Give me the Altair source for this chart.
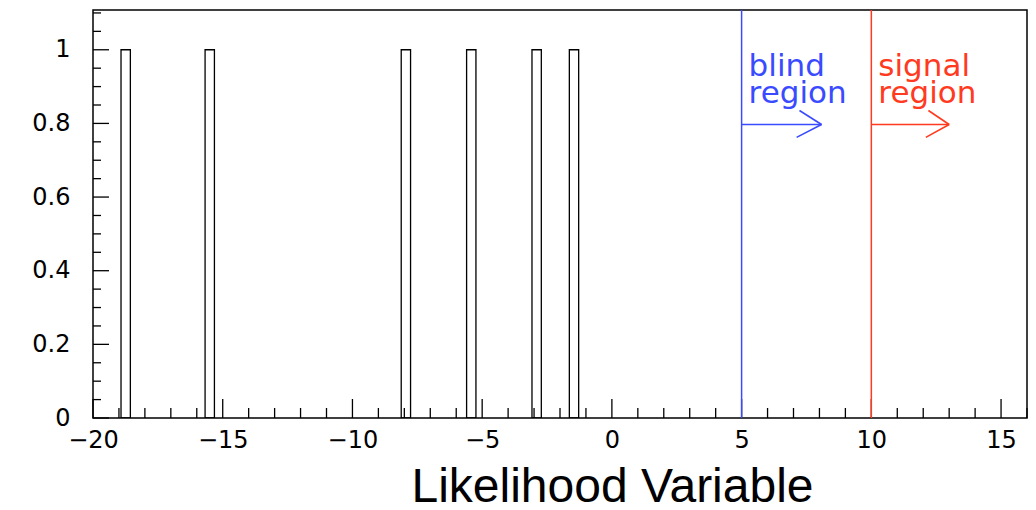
import altair as alt
import pandas as pd

# ---- data ----
bin_lo = [-18.92, -15.68, -8.12, -5.60, -3.08, -1.64]
bin_hi = [-18.56, -15.32, -7.76, -5.24, -2.72, -1.28]
counts = [1, 1, 1, 1, 1, 1]

x_major = [-20, -15, -10, -5, 0, 5, 10, 15]
x_minor = [-19, -18, -17, -16, -14, -13, -12, -11, -9, -8, -7, -6, -4, -3, -2, -1,
           1, 2, 3, 4, 6, 7, 8, 9, 11, 12, 13, 14, 16]
y_major = [0, 0.2, 0.4, 0.6, 0.8, 1.0]
y_minor = [0.05, 0.1, 0.15, 0.25, 0.3, 0.35, 0.45, 0.5, 0.55, 0.65, 0.7, 0.75,
           0.85, 0.9, 0.95, 1.05, 1.1]

region_x = [5, 10]
region_color = ["#3a4bff", "#ff3a1e"]
region_label = ["blind\nregion", "signal\nregion"]
label_y = [0.93, 0.93]
arrow_y = [0.797, 0.797]
arrow_tip = [8.08, 13.0]
barb_up_x = [7.23, 12.2]
barb_up_y = [0.835, 0.835]
barb_lo_x = [7.12, 12.1]
barb_lo_y = [0.762, 0.762]

X_DOMAIN = [-20, 16]
Y_DOMAIN = [0, 1.108]
W, H = 934, 408

xs = alt.Scale(domain=X_DOMAIN, nice=False, zero=False)
ys = alt.Scale(domain=Y_DOMAIN, nice=False, zero=False)

xaxis = alt.Axis(
    values=x_major, format="~g", ticks=False, domain=False, grid=False,
    labelFont="DejaVu Sans", labelFontSize=24, labelColor="black",
    labelPadding=10, labelFlush=False,
    title="Likelihood Variable", titleFont="Liberation Sans", titleFontSize=48,
    titleFontWeight="normal", titleColor="black", titleX=519, titleY=83,
    titleAlign="center", titleAnchor="start", titleBaseline="alphabetic")
yaxis = alt.Axis(
    values=y_major, format="~g", ticks=False, domain=False, grid=False,
    labelFont="DejaVu Sans", labelFontSize=24, labelColor="black",
    labelPadding=23, labelFlush=False, title=None)

bars_df = pd.DataFrame({"lo": bin_lo, "hi": bin_hi, "n": counts, "z": [0] * len(counts)})
reg_df = pd.DataFrame({"x": region_x, "c": region_color, "t": region_label, "ly": label_y})
seg_rows = []
for i in range(len(region_x)):
    seg_rows.append({"x": region_x[i], "x2": arrow_tip[i], "y": arrow_y[i], "y2": arrow_y[i], "c": region_color[i]})
    seg_rows.append({"x": barb_up_x[i], "x2": arrow_tip[i], "y": barb_up_y[i], "y2": arrow_y[i], "c": region_color[i]})
    seg_rows.append({"x": barb_lo_x[i], "x2": arrow_tip[i], "y": barb_lo_y[i], "y2": arrow_y[i], "c": region_color[i]})
seg_df = pd.DataFrame(seg_rows)

bars = alt.Chart(bars_df).mark_rect(
    fill="white", fillOpacity=0, stroke="black", strokeWidth=1.3, clip=True
).encode(
    x=alt.X("lo:Q", scale=xs, axis=xaxis, title="Likelihood Variable"),
    x2="hi:Q",
    y=alt.Y("z:Q", scale=ys, axis=yaxis, title=None),
    y2="n:Q",
)

xmaj = alt.Chart(pd.DataFrame({"v": x_major})).mark_rule(color="black", strokeWidth=1.3).encode(
    x=alt.X("v:Q", scale=xs, axis=xaxis, title="Likelihood Variable"), y=alt.value(H), y2=alt.value(H - 19))
xmin = alt.Chart(pd.DataFrame({"v": x_minor})).mark_rule(color="black", strokeWidth=1.3).encode(
    x=alt.X("v:Q", scale=xs, axis=xaxis, title="Likelihood Variable"), y=alt.value(H), y2=alt.value(H - 10))
ymaj = alt.Chart(pd.DataFrame({"v": y_major})).mark_rule(color="black", strokeWidth=1.3).encode(
    y=alt.Y("v:Q", scale=ys, axis=yaxis, title=None), x=alt.value(0), x2=alt.value(16))
ymin = alt.Chart(pd.DataFrame({"v": y_minor})).mark_rule(color="black", strokeWidth=1.3).encode(
    y=alt.Y("v:Q", scale=ys, axis=yaxis, title=None), x=alt.value(0), x2=alt.value(8))

vlines = alt.Chart(reg_df).mark_rule(strokeWidth=1.5).encode(
    x=alt.X("x:Q", scale=xs, axis=xaxis, title="Likelihood Variable"),
    color=alt.Color("c:N", scale=None))

arrows = alt.Chart(seg_df).mark_rule(strokeWidth=1.6).encode(
    x=alt.X("x:Q", scale=xs, axis=xaxis, title="Likelihood Variable"), x2="x2:Q",
    y=alt.Y("y:Q", scale=ys, axis=yaxis, title=None), y2="y2:Q",
    color=alt.Color("c:N", scale=None))

labels = alt.Chart(reg_df).mark_text(
    align="left", baseline="alphabetic", dx=7, font="DejaVu Sans", fontSize=31,
    lineHeight=27, lineBreak="\n"
).encode(
    x=alt.X("x:Q", scale=xs, axis=xaxis, title="Likelihood Variable"),
    y=alt.Y("ly:Q", scale=ys, axis=yaxis, title=None),
    text="t:N", color=alt.Color("c:N", scale=None))

chart = alt.layer(bars, xmaj, xmin, ymaj, ymin, vlines, arrows, labels).properties(
    width=W, height=H,
    autosize=alt.AutoSizeParams(type="none"),
    padding={"left": 85, "top": 2, "right": 1, "bottom": 84},
    background="white",
).configure_view(stroke="black", strokeWidth=1.5)

chart.save("out.html", embed_options={"renderer": "svg", "actions": False})
